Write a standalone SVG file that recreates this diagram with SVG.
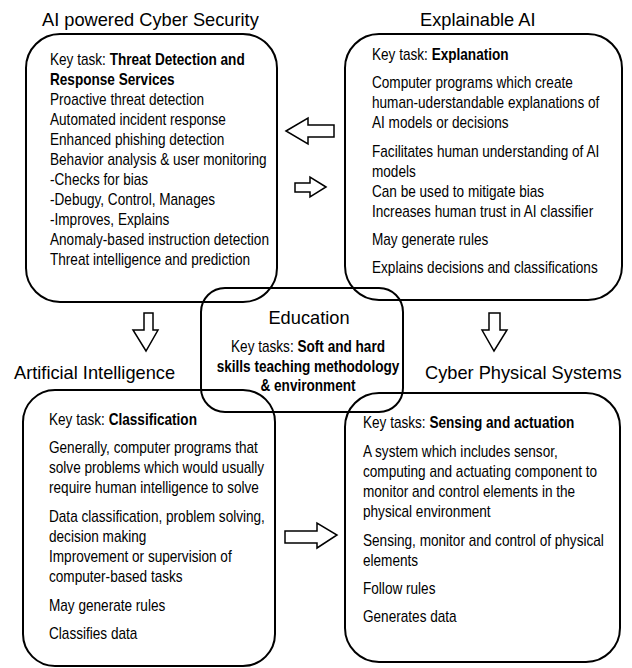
<svg xmlns="http://www.w3.org/2000/svg" width="632" height="668" viewBox="0 0 632 668">
  <style>
    .box { fill: none; stroke: #000; stroke-width: 2; }
    .arrow { fill: #fff; stroke: #000; stroke-width: 1.5; stroke-linejoin: miter; }
    .title { font-family: "Liberation Sans", Arial, sans-serif; font-size: 19px; fill: #000; }
    .body { font-family: "Liberation Sans", Arial, sans-serif; font-size: 16px; fill: #000; }
    .b { font-weight: bold; }
  </style>
  <rect width="632" height="668" fill="#fff"/>

  <!-- AI powered Cyber Security -->
  <g id="cyber-security">
    <text class="title" transform="translate(42,26) scale(0.96,1)">AI powered Cyber Security</text>
    <rect class="box" x="26" y="34" width="251" height="268" rx="34" ry="34"/>
    <g transform="translate(50,0) scale(0.85,1)">
      <text class="body" y="65">Key task: <tspan class="b">Threat Detection  and</tspan></text>
      <text class="body b" y="85">Response Services</text>
      <text class="body" y="105">Proactive threat detection</text>
      <text class="body" y="125">Automated incident response</text>
      <text class="body" y="145">Enhanced phishing detection</text>
      <text class="body" y="165">Behavior analysis &amp; user monitoring</text>
      <text class="body" y="185">-Checks for bias</text>
      <text class="body" y="205">-Debugy, Control, Manages</text>
      <text class="body" y="225">-Improves, Explains</text>
      <text class="body" y="245">Anomaly-based instruction detection</text>
      <text class="body" y="265">Threat  intelligence and prediction</text>
    </g>
  </g>

  <!-- Explainable AI -->
  <g id="explainable-ai">
    <text class="title" transform="translate(420,26) scale(0.96,1)">Explainable AI</text>
    <rect class="box" x="345" y="34" width="277" height="266" rx="34" ry="34"/>
    <g transform="translate(372,0) scale(0.85,1)">
      <text class="body" y="60">Key task: <tspan class="b">Explanation</tspan></text>
      <text class="body" y="88">Computer programs which create</text>
      <text class="body" y="108">human-uderstandable explanations of</text>
      <text class="body" y="128">AI models or decisions</text>
      <text class="body" y="157">Facilitates human understanding of AI</text>
      <text class="body" y="177">models</text>
      <text class="body" y="197">Can be used to mitigate bias</text>
      <text class="body" y="217">Increases human trust  in AI classifier</text>
      <text class="body" y="245">May generate rules</text>
      <text class="body" y="273">Explains decisions and classifications</text>
    </g>
  </g>

  <!-- Education -->
  <g id="education">
    <rect class="box" x="201" y="288" width="202" height="124" rx="24" ry="24"/>
    <text class="title" text-anchor="middle" transform="translate(309,324) scale(0.96,1)">Education</text>
    <g transform="translate(308,0) scale(0.85,1)" text-anchor="middle">
      <text class="body" y="352">Key tasks: <tspan class="b">Soft and hard</tspan></text>
      <text class="body b" y="372">skills teaching methodology</text>
      <text class="body b" y="391">&amp; environment</text>
    </g>
  </g>

  <!-- Artificial Intelligence -->
  <g id="artificial-intelligence">
    <text class="title" transform="translate(14,379) scale(0.96,1)">Artificial Intelligence</text>
    <rect class="box" x="23" y="390" width="252" height="276" rx="32" ry="32"/>
    <g transform="translate(49,0) scale(0.85,1)">
      <text class="body" y="425">Key task: <tspan class="b">Classification</tspan></text>
      <text class="body" y="453">Generally, computer programs that</text>
      <text class="body" y="473">solve problems which would usually</text>
      <text class="body" y="493">require human intelligence to solve</text>
      <text class="body" y="522">Data classification, problem solving,</text>
      <text class="body" y="542">decision making</text>
      <text class="body" y="562">Improvement or supervision of</text>
      <text class="body" y="582">computer-based tasks</text>
      <text class="body" y="611">May generate rules</text>
      <text class="body" y="639">Classifies data</text>
    </g>
  </g>

  <!-- Cyber Physical Systems -->
  <g id="cyber-physical-systems">
    <text class="title" transform="translate(425,379) scale(0.96,1)">Cyber Physical Systems</text>
    <rect class="box" x="345" y="393" width="275" height="269" rx="34" ry="34"/>
    <g transform="translate(363,0) scale(0.85,1)">
      <text class="body" y="428">Key tasks: <tspan class="b">Sensing and actuation</tspan></text>
      <text class="body" y="457">A system which includes sensor,</text>
      <text class="body" y="477">computing and actuating  component to</text>
      <text class="body" y="497">monitor and control elements in the</text>
      <text class="body" y="517">physical environment</text>
      <text class="body" y="546">Sensing, monitor and control of physical</text>
      <text class="body" y="566">elements</text>
      <text class="body" y="594">Follow rules</text>
      <text class="body" y="622">Generates data</text>
    </g>
  </g>

  <!-- Block arrows between the areas -->
  <g id="connectors">
    <!-- Explainable AI to Cyber Security -->
    <polygon class="arrow" points="286,131 308,118 308,125 334,125 334,137 308,137 308,144"/>
    <!-- Cyber Security to Explainable AI -->
    <polygon class="arrow" points="326,187 310,177 310,183 295,183 295,192 310,192 310,197"/>
    <!-- Cyber Security down to Artificial Intelligence -->
    <polygon class="arrow" points="144,313 153,313 153,330 158,330 146,351 133,330 144,330"/>
    <!-- Explainable AI down to Cyber Physical Systems -->
    <polygon class="arrow" points="489,313 500,313 500,330 507,330 494,351 482,330 489,330"/>
    <!-- Artificial Intelligence to Cyber Physical Systems -->
    <polygon class="arrow" points="285,531 317,531 317,523 337,535 317,548 317,543 285,543"/>
  </g>
</svg>
